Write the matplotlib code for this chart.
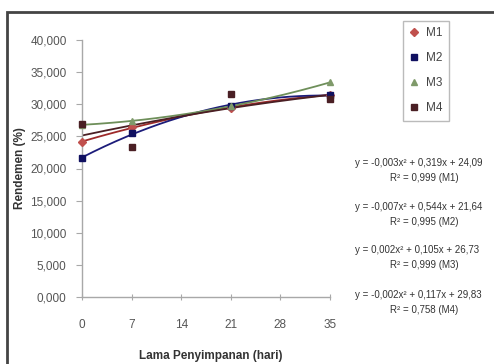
import numpy as np
import matplotlib
matplotlib.use("Agg")
import matplotlib.pyplot as plt
from matplotlib.patches import Rectangle
from matplotlib.ticker import FuncFormatter

plt.rcParams['font.family'] = ['Liberation Sans', 'DejaVu Sans']

days = [0, 7, 21, 35]
series_names = ["M1", "M2", "M3", "M4"]
m1 = [24.1, 26.5, 29.4, 31.5]
m2 = [21.6, 25.5, 29.8, 31.4]
m3 = [26.8, 27.4, 29.7, 33.4]
m4 = [26.9, 23.4, 31.6, 30.8]
x_ticks = [0, 7, 14, 21, 28, 35]
y_ticks = [0, 5, 10, 15, 20, 25, 30, 35, 40]
equations = [
    ("y = -0,003x² + 0,319x + 24,09", "R² = 0,999 (M1)"),
    ("y = -0,007x² + 0,544x + 21,64", "R² = 0,995 (M2)"),
    ("y = 0,002x² + 0,105x + 26,73", "R² = 0,999 (M3)"),
    ("y = -0,002x² + 0,117x + 29,83", "R² = 0,758 (M4)"),
]

line_colors = ["#9E2A2A", "#1C1C7A", "#6E8F5A", "#4A1F24"]
marker_colors = ["#C0504D", "#101060", "#7F9A6A", "#4A1F24"]
markers = ["D", "s", "^", "s"]
msizes = [4, 5, 5, 5]

fig = plt.figure(figsize=(4.94, 3.64), dpi=100)
ax = fig.add_axes([82/494, 1-297/364, (330-82)/494, (297-40)/364])

xs = np.linspace(0, 35, 200)
for vals, name, lc, mc, mk, ms in zip([m1, m2, m3, m4], series_names, line_colors, marker_colors, markers, msizes):
    coef = np.polyfit(days, vals, 2)
    ax.plot(xs, np.polyval(coef, xs), color=lc, lw=1.3, zorder=2)
    ax.plot(days, vals, linestyle='none', marker=mk, color=mc, markersize=ms,
            markeredgecolor=mc, label=name, zorder=3, clip_on=False)

ax.set_xlim(0, 35)
ax.set_ylim(0, 40)
ax.set_xticks(x_ticks)
ax.set_yticks(y_ticks)
ax.yaxis.set_major_formatter(FuncFormatter(lambda v, p: f"{v:.3f}".replace('.', ',')))
for s in ['top', 'right']:
    ax.spines[s].set_visible(False)
for s in ['left', 'bottom']:
    ax.spines[s].set_color('#A8A8A8')
    ax.spines[s].set_linewidth(1.0)
ax.tick_params(axis='y', colors='#A8A8A8', labelcolor='#555555', labelsize=8.5, length=4, direction='out', pad=7)
ax.tick_params(axis='x', colors='#A8A8A8', labelcolor='#555555', labelsize=8.5, length=4, direction='inout', pad=14)

ax.set_ylabel("Rendemen (%)", fontsize=8.5, fontweight='bold', color='#333333')
ax.yaxis.set_label_coords((26-82)/248, 0.5)
ax.set_xlabel("Lama Penyimpanan (hari)", fontsize=8.5, fontweight='bold', color='#333333')
ax.xaxis.set_label_coords(0.52, (297-350)/257)

leg = fig.legend(loc='upper left', bbox_to_anchor=(403/494, 1-21/364), frameon=True,
                 fontsize=8.5, handlelength=0.8, handletextpad=0.6, labelspacing=1.1,
                 borderpad=0.55, fancybox=False, borderaxespad=0)
leg.get_frame().set_edgecolor('#AAAAAA')
leg.get_frame().set_linewidth(1.0)
for t in leg.get_texts():
    t.set_color('#444444')

eq_y = [163, 207, 250, 295]
for (e, r), yy in zip(equations, eq_y):
    fig.text(355/494, 1-yy/364, e, ha='left', va='center', fontsize=7, color='#333333')
    fig.text(424/494, 1-(yy+15)/364, r, ha='center', va='center', fontsize=7, color='#333333')

fig.patches.append(Rectangle((7/494, -0.1), 1.2, (1-12/364)+0.1, transform=fig.transFigure,
                             fill=False, edgecolor='#444444', linewidth=2.0))

fig.savefig("out.png", dpi=100)
